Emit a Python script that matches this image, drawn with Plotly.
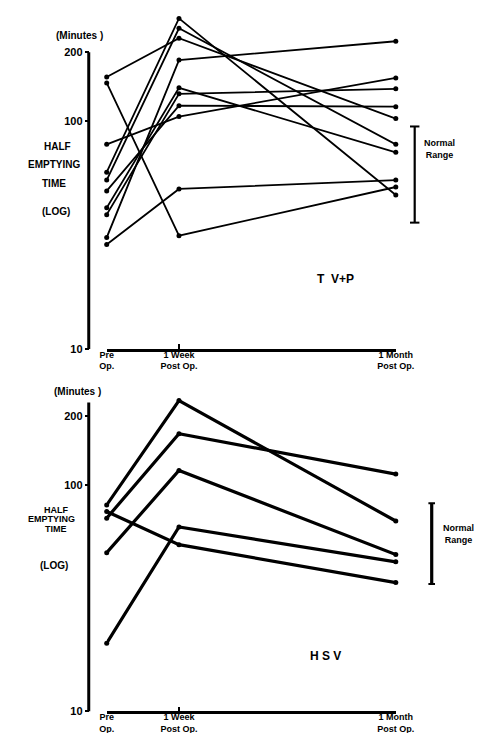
import plotly.graph_objects as go

# ---- data ----
TIMES = [0, 1, 4]  # weeks after operation
TIME_LABELS = ["<b>Pre<br>Op.</b>", "<b>1 Week<br>Post Op.</b>", "<b>1 Month<br>Post Op.</b>"]
Y_TICKS = [10, 100, 200]
Y_TICK_LABELS = ["<b>10</b>", "<b>100</b>", "<b>200</b>"]

# T V+P patients: half emptying time (minutes)
TVP_PRE   = [155.8, 146.7, 78.9, 59.6, 55.0, 49.3, 41.6, 38.8, 30.8, 28.7]
TVP_WEEK  = [230.2, 31.4, 104.4, 281.3, 254.5, 116.6, 139.6, 131.4, 184.7, 50.3]
TVP_MONTH = [102.3, 51.3, 154.3, 47.3, 78.9, 115.4, 72.8, 138.2, 223.4, 55.0]

# HSV patients
HSV_PRE   = [81.4, 71.2, 50.1, 20.0, 76.1]
HSV_WEEK  = [235.0, 167.6, 115.5, 65.1, 54.4]
HSV_MONTH = [69.1, 111.3, 49.2, 45.7, 37.0]

TVP_NORMAL = [35.8, 94.5]
HSV_NORMAL = [36.5, 82.8]
TVP_AXIS_TOP = 200
HSV_AXIS_TOP = 230

W, H = 489, 733
FONT = "Liberation Sans, Arial, sans-serif"


def px(x):
    return x / W


def py(y):
    return 1 - y / H


fig = go.Figure()

for pre, wk, mo in zip(TVP_PRE, TVP_WEEK, TVP_MONTH):
    fig.add_trace(go.Scatter(
        x=TIMES, y=[pre, wk, mo], mode="lines+markers",
        line=dict(color="black", width=1.8),
        marker=dict(color="black", size=5),
        cliponaxis=False, showlegend=False, xaxis="x", yaxis="y"))

for pre, wk, mo in zip(HSV_PRE, HSV_WEEK, HSV_MONTH):
    fig.add_trace(go.Scatter(
        x=TIMES, y=[pre, wk, mo], mode="lines+markers",
        line=dict(color="black", width=3.2),
        marker=dict(color="black", size=5),
        cliponaxis=False, showlegend=False, xaxis="x2", yaxis="y2"))

xaxis_common = dict(
    range=[0, 4], showline=True, linewidth=2.5, linecolor="black",
    ticks="inside", ticklen=5, tickwidth=2, tickcolor="black",
    tickvals=TIMES, ticktext=TIME_LABELS, showgrid=False, zeroline=False,
    ticklabelstandoff=-5,
    tickfont=dict(family=FONT, size=9, color="black"), fixedrange=True)
yaxis_common = dict(
    type="log", anchor="free", position=px(77), showline=False,
    ticks="outside", ticklen=4, tickwidth=2, tickcolor="black",
    tickvals=Y_TICKS, ticktext=Y_TICK_LABELS, showgrid=False, zeroline=False,
    tickfont=dict(family=FONT, size=11, color="black"), fixedrange=True)

fig.update_layout(
    width=W, height=H, autosize=False,
    margin=dict(l=0, r=0, t=0, b=0),
    paper_bgcolor="white", plot_bgcolor="white",
    font=dict(family=FONT, color="black"),
    xaxis=dict(domain=[px(96), px(402)], anchor="y", **xaxis_common),
    yaxis=dict(domain=[py(343.8), py(5)], range=[1, 1 + 338.8 / 230], **yaxis_common),
    xaxis2=dict(domain=[px(96), px(402)], anchor="y2", **xaxis_common),
    yaxis2=dict(domain=[py(709.3), py(380)], range=[1, 1 + 329.3 / 228.7], **yaxis_common),
)

shapes = []
# vertical y axis lines
shapes.append(dict(type="line", xref="paper", yref="y", x0=px(77), x1=px(77),
                   y0=10, y1=TVP_AXIS_TOP, line=dict(color="black", width=3)))
shapes.append(dict(type="line", xref="paper", yref="y2", x0=px(77), x1=px(77),
                   y0=10, y1=HSV_AXIS_TOP, line=dict(color="black", width=3)))
# normal range bars
for yref, (lo, hi), xc, cap, w in [("y", TVP_NORMAL, 422, 5, 2.2), ("y2", HSV_NORMAL, 440, 3.5, 3.2)]:
    shapes.append(dict(type="line", xref="paper", yref=yref, x0=px(xc), x1=px(xc),
                       y0=lo, y1=hi, line=dict(color="black", width=w)))
    for v in (lo, hi):
        shapes.append(dict(type="line", xref="paper", yref=yref, x0=px(xc - cap), x1=px(xc + cap),
                           y0=v, y1=v, line=dict(color="black", width=2)))
fig.update_layout(shapes=shapes)

ann = []


def label(text, x, y, size=10, align="center"):
    ann.append(dict(text=text, x=px(x), y=py(y), xref="paper", yref="paper",
                    showarrow=False, xanchor="center", yanchor="middle", align=align,
                    font=dict(family=FONT, size=size, color="black")))


# top panel labels
label("<b>(Minutes )</b>", 67, 28)
label("<b>HALF</b>", 44, 140)
label("<b>EMPTYING</b>", 40, 158)
label("<b>TIME</b>", 40, 177)
label("<b>(LOG)</b>", 42, 205)
label("<b>T  V+P</b>", 338, 273, size=12)
label("<b>Normal<br>Range</b>", 448, 142, size=9)

# bottom panel labels
label("<b>(Minutes )</b>", 65, 387)
label("<b>HALF</b>", 42, 506, size=9)
label("<b>EMPTYING</b>", 38, 515.5, size=9)
label("<b>TIME</b>", 42, 525, size=9)
label("<b>(LOG)</b>", 40, 562)
label("<b>H S V</b>", 328, 653, size=12)
label("<b>Normal<br>Range</b>", 468, 530, size=9)

fig.update_layout(annotations=ann)

fig.write_html("out.html")
